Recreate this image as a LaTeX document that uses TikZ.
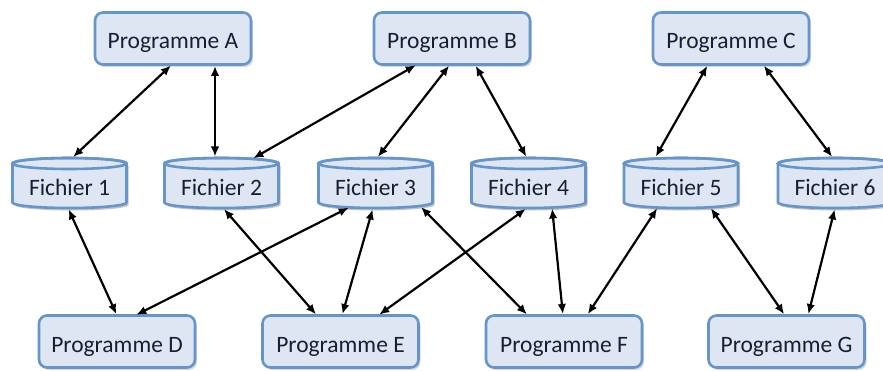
\documentclass[tikz,border=0pt]{standalone}
\usepackage{fontspec}
\setmainfont{Carlito}
\usetikzlibrary{arrows.meta,shadows,backgrounds}

\definecolor{boxfill}{RGB}{221,230,242}
\definecolor{boxline}{RGB}{102,149,204}
\definecolor{boxtext}{RGB}{22,32,50}

\tikzset{
  labelfont/.style={text=boxtext, font=\fontsize{23.5}{28}\selectfont},
  prog/.style={labelfont, draw=boxline, line width=2.6pt, fill=boxfill,
    rounded corners=8pt, minimum width=156pt, minimum height=52pt,
    inner sep=0pt, outer sep=0pt, text height=23pt, text depth=2pt,
    drop shadow={shadow xshift=2pt, shadow yshift=-2.5pt, opacity=0.3}},
  file/.style={labelfont, minimum width=114pt, minimum height=50pt,
    inner sep=0pt, outer sep=0pt, text height=27pt, text depth=2pt},
  cylbody/.style={draw=boxline, line width=2.6pt, fill=boxfill},
  cylline/.style={draw=boxline, line width=2.6pt},
  link/.style={line width=2.2pt, shorten <=1.5pt, shorten >=1.5pt,
    {Latex[length=10pt,width=8.5pt]}-{Latex[length=10pt,width=8.5pt]}},
}

\begin{document}
\begin{tikzpicture}[x=1pt, y=1pt]
  \useasboundingbox (0,0) rectangle (883,370);

  % programs, top row
  \node[prog] (pa) at (173,331.5) {Programme A};
  \node[prog] (pb) at (452,331.5) {Programme B};
  \node[prog] (pc) at (731,331.5) {Programme C};

  % files
  \node[file] (f1) at (69.5,187)  {Fichier 1};
  \node[file] (f2) at (221.5,187) {Fichier 2};
  \node[file] (f3) at (375.5,187) {Fichier 3};
  \node[file] (f4) at (528.5,187) {Fichier 4};
  \node[file] (f5) at (681,187)   {Fichier 5};
  \node[file] (f6) at (835,187)   {Fichier 6};

  % programs, bottom row
  \node[prog] (pd) at (117,28.5)   {Programme D};
  \node[prog] (pe) at (340.5,28.5) {Programme E};
  \node[prog] (pf) at (564,28.5)   {Programme F};
  \node[prog] (pg) at (786.5,28.5) {Programme G};

  % cylinder outlines behind the file labels
  \begin{scope}[on background layer]
    \foreach \n in {f1,f2,f3,f4,f5,f6}{
      \fill[black, opacity=0.24]
        ([shift={(2pt,-8pt)}]\n.north west) -- ([shift={(2pt,3pt)}]\n.south west)
        arc[start angle=180, end angle=360, x radius=57pt, y radius=5.5pt]
        -- ([shift={(2pt,-8pt)}]\n.north east)
        arc[start angle=0, end angle=180, x radius=57pt, y radius=5.5pt] -- cycle;
      \path[cylbody]
        ([yshift=-5.5pt]\n.north west) -- ([yshift=5.5pt]\n.south west)
        arc[start angle=180, end angle=360, x radius=57pt, y radius=5.5pt]
        -- ([yshift=-5.5pt]\n.north east)
        arc[start angle=0, end angle=180, x radius=57pt, y radius=5.5pt] -- cycle;
      \path[cylline] ([yshift=-5.5pt]\n.north) ellipse[x radius=57pt, y radius=5.5pt];
    }
  \end{scope}

  % top programs <-> files
  \draw[link] ([xshift=-1pt]pa.south)  -- ([xshift=2.5pt]f1.north);
  \draw[link] ([xshift=42pt]pa.south)  -- ([xshift=-6.5pt]f2.north);
  \draw[link] ([xshift=-35pt]pb.south) -- ([xshift=30.5pt,yshift=-1pt]f2.north);
  \draw[link] ([xshift=-2pt]pb.south)  -- ([xshift=1.5pt]f3.north);
  \draw[link] ([xshift=23pt]pb.south)  -- ([xshift=-1.5pt]f4.north);
  \draw[link] ([xshift=-23pt]pc.south) -- ([xshift=-26pt]f5.north);
  \draw[link] ([xshift=32pt]pc.south)  -- ([xshift=-2pt]f6.north);

  % files <-> bottom programs
  \draw[link] ([xshift=-1.5pt]f1.south) -- (pd.north);
  \draw[link] ([xshift=18pt]pd.north)   -- ([xshift=-25.5pt,yshift=1pt]f3.south);
  \draw[link] ([xshift=1.5pt]f2.south)  -- ([xshift=-23.5pt]pe.north);
  \draw[link] ([xshift=-2.5pt]f3.south) -- ([xshift=1.5pt]pe.north);
  \draw[link] ([xshift=37.5pt]pe.north) -- ([xshift=-1.5pt]f4.south);
  \draw[link] ([xshift=44.5pt,yshift=2pt]f3.south) -- ([xshift=-36pt]pf.north);
  \draw[link] ([xshift=23.5pt,yshift=1pt]f4.south) -- ([xshift=-1pt]pf.north);
  \draw[link] ([xshift=23pt]pf.north)   -- ([xshift=-23pt,yshift=1pt]f5.south);
  \draw[link] ([xshift=29pt,yshift=1pt]f5.south) -- ([xshift=-1.5pt]pg.north);
  \draw[link] (f6.south) -- ([xshift=21.5pt]pg.north);
\end{tikzpicture}
\end{document}
